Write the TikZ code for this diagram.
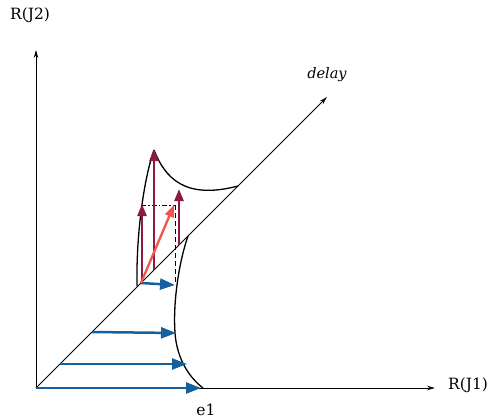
\documentclass[tikz,border=0pt]{standalone}
\usepackage{fontspec}
\setmainfont{DejaVu Serif}
\usetikzlibrary{arrows.meta}
\definecolor{flowblue}{HTML}{15609E}
\definecolor{deepred}{HTML}{8E1B3E}
\definecolor{brightred}{HTML}{F2544B}
\begin{document}
\begin{tikzpicture}[x=1pt,y=-1pt,
  axis/.style={line width=1pt,-{Stealth[length=8pt,width=4.5pt]}},
  curve/.style={line width=1.3pt},
  bluearrow/.style={flowblue,line width=2.5pt,-{Triangle[length=15pt,width=11pt]}},
  redarrow/.style={deepred,line width=2.6pt,-{Triangle[length=12pt,width=9pt]}},
  lightarrow/.style={brightred,line width=2.3pt,-{Triangle[length=12pt,width=9pt]}},
  lbl/.style={font=\fontsize{15.5}{18}\selectfont,inner sep=0pt}]
\path[use as bounding box] (0,0) rectangle (495,420);
% key points
\coordinate (O) at (36,388);
\coordinate (ytop) at (36,50);
\coordinate (xend) at (435,388);
\coordinate (dend) at (327,97);
\coordinate (apex) at (154,150);
\coordinate (uend) at (238,186);
\coordinate (lend) at (137,286);
\coordinate (rtop) at (188,236);
\coordinate (rmid) at (175,333);
\coordinate (e1) at (203,388);
% labels
\node[lbl] (ly) at (30,15) {R(J2)};
\node[lbl] (lx) at (468,385) {R(J1)};
\node[lbl] (le) at (206,410) {e1};
\node[lbl,font=\fontsize{14.5}{17}\selectfont] (ld) at (327,75) {\itshape delay};
% axes
\draw[axis] (O) -- (ytop);
\draw[axis] (O) -- (xend);
\draw[axis] (O) -- (dend);
% curves
\draw[curve] (apex) .. controls (165,178) and (185,200) .. (uend);
\draw[curve] (apex) .. controls (145,175) and (136,230) .. (lend);
\draw[curve] (rtop) .. controls (178,265) and (173,305) .. (rmid)
  .. controls (177,360) and (190,378) .. (e1);
% blue arrows
\coordinate (b1s) at (36,388);  \coordinate (b1e) at (201,388);
\coordinate (b2s) at (60,364);  \coordinate (b2e) at (187,364);
\coordinate (b3s) at (92,332);  \coordinate (b3e) at (176,333);
\coordinate (P) at (141,283);   \coordinate (b4e) at (175,285);
\draw[bluearrow] (b1s) -- (b1e);
\draw[bluearrow] (b2s) -- (b2e);
\draw[bluearrow] (b3s) -- (b3e);
\draw[bluearrow] (P) -- (b4e);
% dashed guides
\coordinate (h1) at (141,205);
\coordinate (h2) at (175,205);
\draw[line width=1pt,dash pattern=on 5pt off 2pt on 1.5pt off 2pt] (h1) -- (h2);
\draw[line width=1pt,dash pattern=on 5pt off 3pt] (h2) -- (b4e);
% red arrows
\coordinate (r1s) at (142,283); \coordinate (r1e) at (142,204);
\coordinate (r2s) at (154,270); \coordinate (r2e) at (154,149);
\coordinate (r3s) at (179,245); \coordinate (r3e) at (179,189);
\coordinate (r4e) at (174,205);
\draw[redarrow] (r1s) -- (r1e);
\draw[redarrow] (r2s) -- (r2e);
\draw[redarrow] (r3s) -- (r3e);
\draw[lightarrow] (P) -- (r4e);
\end{tikzpicture}
\end{document}
